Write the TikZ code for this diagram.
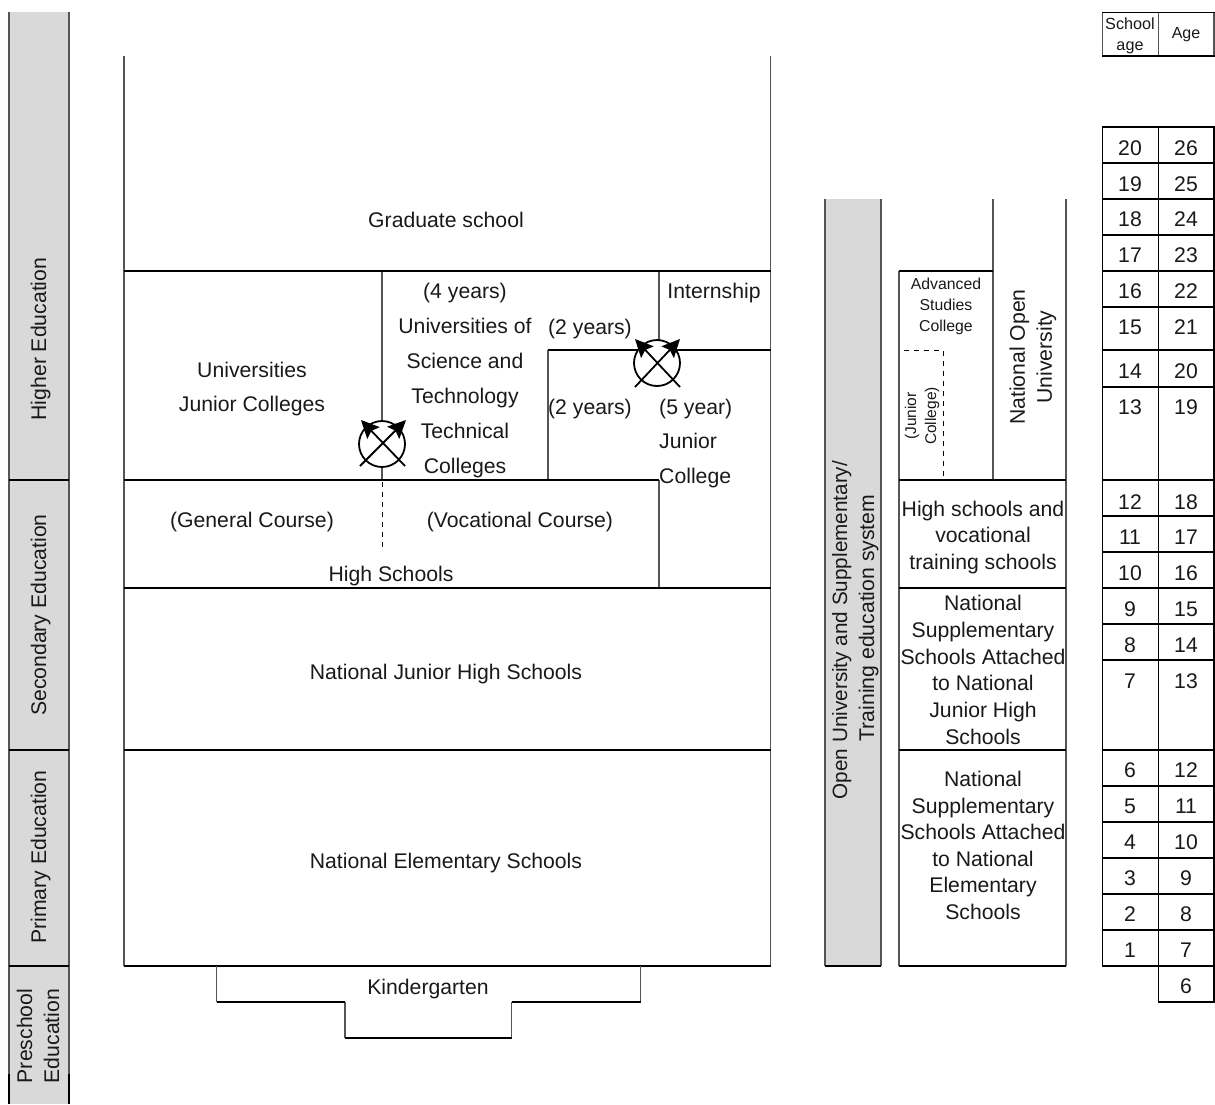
\documentclass[tikz,border=0pt]{standalone}
\usepackage{fontspec}
\setmainfont{Liberation Sans}
\usetikzlibrary{arrows.meta}
\definecolor{bandgray}{HTML}{D9D9D9}
\definecolor{vgray}{HTML}{555555}
\tikzset{
  hline/.style={black,line width=1.9pt},
  vline/.style={vgray,line width=1.5pt},
  dashline/.style={black,line width=0.9pt,dash pattern=on 5pt off 5pt},
  band/.style={fill=bandgray,draw=none},
  lbl/.style={inner sep=0pt,align=center,text=black!90,font=\fontsize{21.2}{21.2}\selectfont,text height=15pt,text depth=1pt},
  para/.style={inner sep=0pt,align=center,text=black!90,font=\fontsize{21.2}{#1}\selectfont},
  small/.style 2 args={inner sep=0pt,align=center,text=black!90,font=\fontsize{#1}{#2}\selectfont},
  ring/.style={draw=black,line width=1.8pt,circle,minimum size=46pt,inner sep=0pt},
  xarrow/.style={black,line width=1.8pt,-{Stealth[length=18pt,width=17pt,inset=3pt]}}
}
\begin{document}
\begin{tikzpicture}[x=1pt,y=-1pt]
\useasboundingbox (0,0) rectangle (1215,1104);
% left band
\fill[band] (9,12) rectangle (69,1104);
\draw[vline] (9,12) -- (9,1074) (69,12) -- (69,1074);
\draw[black,line width=2.4pt] (9,1074) -- (9,1104) (69,1074) -- (69,1104);
\draw[hline] (9,480) -- (69,480) (9,750) -- (69,750) (9,966) -- (69,966);
\node[lbl,rotate=90] (he) at (39,339) {Higher Education};
\node[lbl,rotate=90] (se) at (39,615) {Secondary Education};
\node[lbl,rotate=90] (pe) at (39,857) {Primary Education};
\node[para=27,rotate=90] (pre) at (38,1036) {Preschool\\Education};
% main block
\draw[vline] (124,56) -- (124,966) (770.5,56) -- (770.5,966);
\draw[vline] (382,271) -- (382,480) (548,350) -- (548,480) (659,271) -- (659,350) (659,480) -- (659,588);
\draw[hline] (124,271) -- (770.5,271) (548,350) -- (770.5,350) (124,480) -- (659,480)
  (124,588) -- (770.5,588) (124,750) -- (770.5,750) (124,966) -- (770.5,966);
\draw[dashline] (382,482) -- (382,550);
% circles
\node[ring,fill=white] (c1) at (382,444) {};
\node[ring,fill=white] (c2) at (657,363) {};
\coordinate (c1a) at (360,466); \coordinate (c1b) at (405,466);
\coordinate (c1c) at (361,420); \coordinate (c1d) at (406,420);
\coordinate (c2a) at (635,387); \coordinate (c2b) at (680,387);
\coordinate (c2c) at (635,339); \coordinate (c2d) at (680,339);
\draw[xarrow] (c1a) -- (c1d);
\draw[xarrow] (c1b) -- (c1c);
\draw[xarrow] (c2a) -- (c2d);
\draw[xarrow] (c2b) -- (c2c);
% main labels
\node[lbl] (grad) at (446,220) {Graduate school};
\node[para=34] (univ) at (252,389) {Universities\\Junior Colleges};
\node[para=35] (ust) at (465,381) {(4 years)\\Universities of\\Science and\\Technology\\Technical\\Colleges};
\node[lbl] (intern) at (714,291) {Internship};
\node[lbl] (y2a) at (590,327) {(2 years)};
\node[lbl] (y2b) at (590,407) {(2 years)};
\node[lbl,anchor=west] (y5) at (659,407) {(5 year)};
\node[lbl,anchor=west] (jr) at (659,441) {Junior};
\node[lbl,anchor=west] (col) at (659,476) {College};
\node[lbl] (gen) at (252,520) {(General Course)};
\node[lbl] (voc) at (520,520) {(Vocational Course)};
\node[lbl] (hs) at (391,574) {High Schools};
\node[lbl] (njh) at (446,672) {National Junior High Schools};
\node[lbl] (nes) at (446,861) {National Elementary Schools};
% kindergarten
\draw[vline] (216.5,966) -- (216.5,1002) (345,1002) -- (345,1038) (511.5,1002) -- (511.5,1038) (640.5,966) -- (640.5,1002);
\draw[hline] (216.5,1002) -- (345,1002) (345,1038) -- (511.5,1038) (511.5,1002) -- (640.5,1002);
\node[lbl] (kg) at (428,987) {Kindergarten};
% middle band
\fill[band] (825,199) rectangle (881,966);
\draw[vline] (825,199) -- (825,966) (881,199) -- (881,966);
\draw[hline] (825,966) -- (881,966);
\node[lbl,font=\fontsize{20.7}{20.7}\selectfont,rotate=90] (ou1) at (840,630) {Open University and Supplementary/};
\node[lbl,rotate=90] (ou2) at (867,618) {Training education system};
% right column
\draw[vline] (899,271) -- (899,966) (993,199) -- (993,480) (1066,199) -- (1066,966);
\draw[hline] (899,271) -- (993,271) (899,480) -- (1066,480) (899,588) -- (1066,588) (899,750) -- (1066,750) (899,966) -- (1066,966);
\draw[dashline] (904,350) -- (943,350) -- (943,478);
\node[small={15.8}{21}] (adv) at (946,306) {Advanced\\Studies\\College};
\node[small={15.5}{20},rotate=90] (jc) at (922,416) {(Junior\\College)};
\node[para=27,rotate=90] (nou) at (1033,357) {National Open\\University};
\node[para=26.6] (hsv) at (983,537.5) {High schools and\\vocational\\training schools};
\node[para=26.8] (ss1) at (983,670) {National\\Supplementary\\Schools Attached\\to National\\Junior High\\Schools};
\node[para=26.6] (ss2) at (983,845.5) {National\\Supplementary\\Schools Attached\\to National\\Elementary\\Schools};
% age table
\draw[vline] (1102.5,12.5) -- (1102.5,56) (1158.5,12.5) -- (1158.5,56) (1214,12.5) -- (1214,56);
\draw[hline] (1102,12.5) -- (1215,12.5) (1102,56) -- (1215,56);
\node[small={16.2}{21}] (sa) at (1130,36) {School\\age};
\node[small={16}{16}] (ag) at (1186,35) {Age};
\draw[black,line width=1.2pt] (1102.5,127) -- (1102.5,966) (1158.5,127) -- (1158.5,1002) (1214,127) -- (1214,1002);
\foreach \yy in {127,163,199,235,271,307,350,387,480,516,552,588,624,660,750,786,822,858,894,930,966}
  \draw[hline] (1102,\yy) -- (1215,\yy);
\draw[hline] (1158,1002) -- (1215,1002);
\foreach \s/\a/\yy in {20/26/148,19/25/184,18/24/219,17/23/255,16/22/291,15/21/327,14/20/371,13/19/407,12/18/502,11/17/537,10/16/573,9/15/609,8/14/645,7/13/681,6/12/770,5/11/806,4/10/842,3/9/878,2/8/914,1/7/950}{
  \node[lbl] (s\s) at (1130,\yy) {\s};
  \node[lbl] (a\a) at (1186,\yy) {\a};
}
\node[lbl] (a6) at (1186,986) {6};
\end{tikzpicture}
\end{document}
